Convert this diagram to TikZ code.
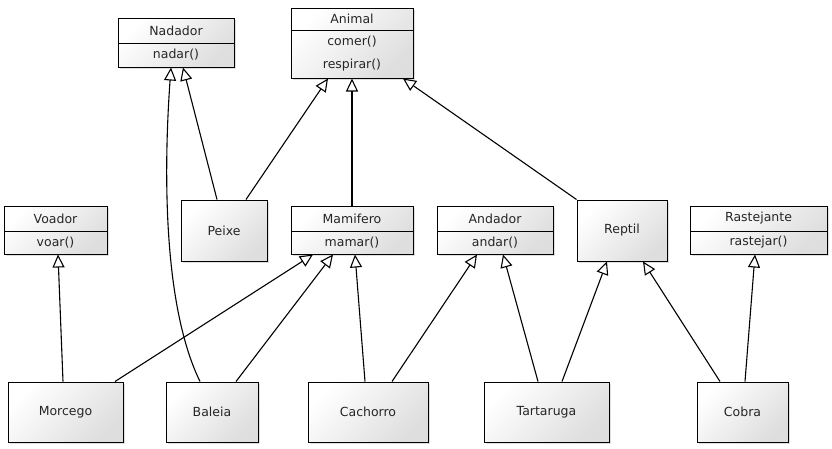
\documentclass[tikz,border=0pt]{standalone}
\usepackage{fontspec}
\setmainfont{DejaVu Sans}
\usetikzlibrary{arrows.meta}
\usetikzlibrary{shadows}

\tikzset{
  cls/.style={draw, line width=1pt, top color=white, bottom color=black!13,
    shading angle=45, inner sep=0pt,
    drop shadow={shadow xshift=1.5pt, shadow yshift=-1.5pt, opacity=0.25}},
  sep/.style={line width=1pt},
  inh/.style={line width=1.1pt, -{Triangle[open, length=13pt, width=12pt]}},
}

\begin{document}
\begin{tikzpicture}[x=1pt, y=-1pt, font=\fontsize{12.5}{14}\selectfont, text=black!85]
        \useasboundingbox (0,0) rectangle (832,448);

        % Interfaces and top classes
        \node [cls, minimum width=116pt, minimum height=49pt] (nadador) at (176,42.5) {};
        \draw [sep] (118,43) -- (234,43);
        \node (nadadorT) at (176,30.5) {Nadador};
        \node (nadadorM) at (176,55) {nadar()};

        \node [cls, minimum width=122pt, minimum height=70pt] (animal) at (352,43) {};
        \draw [sep] (291,30) -- (413,30);
        \node (animalT) at (352,19) {Animal};
        \node (animalM1) at (352,42) {comer()};
        \node (animalM2) at (352,65) {respirar()};

        % Middle row
        \node [cls, minimum width=103pt, minimum height=48pt] (voador) at (55.5,230) {};
        \draw [sep] (4,231) -- (107,231);
        \node (voadorT) at (55.5,218.5) {Voador};
        \node (voadorM) at (55.5,242.5) {voar()};

        \node [cls, minimum width=86pt, minimum height=61pt] (peixe) at (224,230.5) {Peixe};

        \node [cls, minimum width=122pt, minimum height=48pt] (mamifero) at (352,230) {};
        \draw [sep] (291,231) -- (413,231);
        \node (mamiferoT) at (352,218.5) {Mamifero};
        \node (mamiferoM) at (352,242.5) {mamar()};

        \node [cls, minimum width=116pt, minimum height=48pt] (andador) at (495,230) {};
        \draw [sep] (437,231) -- (553,231);
        \node (andadorT) at (495,218.5) {Andador};
        \node (andadorM) at (495,242.5) {andar()};

        \node [cls, minimum width=90pt, minimum height=61pt] (reptil) at (622,230.5) {Reptil};

        \node [cls, minimum width=137pt, minimum height=48pt] (rastejante) at (758.5,230) {};
        \draw [sep] (690,231) -- (827,231);
        \node (rastejanteT) at (758.5,218.5) {Rastejante};
        \node (rastejanteM) at (758.5,242.5) {rastejar()};

        % Bottom row
        \node [cls, minimum width=115pt, minimum height=60pt] (morcego) at (65.5,412) {Morcego};
        \node [cls, minimum width=92pt, minimum height=60pt] (baleia) at (212,412) {Baleia};
        \node [cls, minimum width=120pt, minimum height=60pt] (cachorro) at (368,412) {Cachorro};
        \node [cls, minimum width=125pt, minimum height=60pt] (tartaruga) at (546.5,412) {Tartaruga};
        \node [cls, minimum width=91pt, minimum height=60pt] (cobra) at (742.5,412) {Cobra};

        % Generalizations
        \draw [inh] ([xshift=-7pt]peixe.north) -- ([xshift=7pt]nadador.south);
        \draw [inh] ([xshift=22pt]peixe.north) -- ([xshift=-24pt]animal.south);
        \draw [inh] (mamifero.north) -- (animal.south);
        \draw [inh] (reptil.north west) -- ([xshift=51pt]animal.south);

        \draw [inh] ([xshift=-2.5pt]morcego.north) -- ([xshift=2.5pt]voador.south);
        \draw [inh] ([xshift=49.5pt]morcego.north) -- ([xshift=-39pt]mamifero.south);
        \draw [inh] ([xshift=-12pt]baleia.north) .. controls +(-40,-82) and +(-6,83) .. ([xshift=-5pt]nadador.south);
        \draw [inh] ([xshift=24pt]baleia.north) -- ([xshift=-19pt]mamifero.south);
        \draw [inh] ([xshift=-3pt]cachorro.north) -- ([xshift=3pt]mamifero.south);
        \draw [inh] ([xshift=24pt]cachorro.north) -- ([xshift=-18pt]andador.south);
        \draw [inh] ([xshift=-8.5pt]tartaruga.north) -- ([xshift=8pt]andador.south);
        \draw [inh] ([xshift=15.5pt]tartaruga.north) -- ([xshift=-15pt]reptil.south);
        \draw [inh] ([xshift=-22.5pt]cobra.north) -- ([xshift=21pt]reptil.south);
        \draw [inh] ([xshift=2.5pt]cobra.north) -- ([xshift=-3.5pt]rastejante.south);
\end{tikzpicture}
\end{document}
